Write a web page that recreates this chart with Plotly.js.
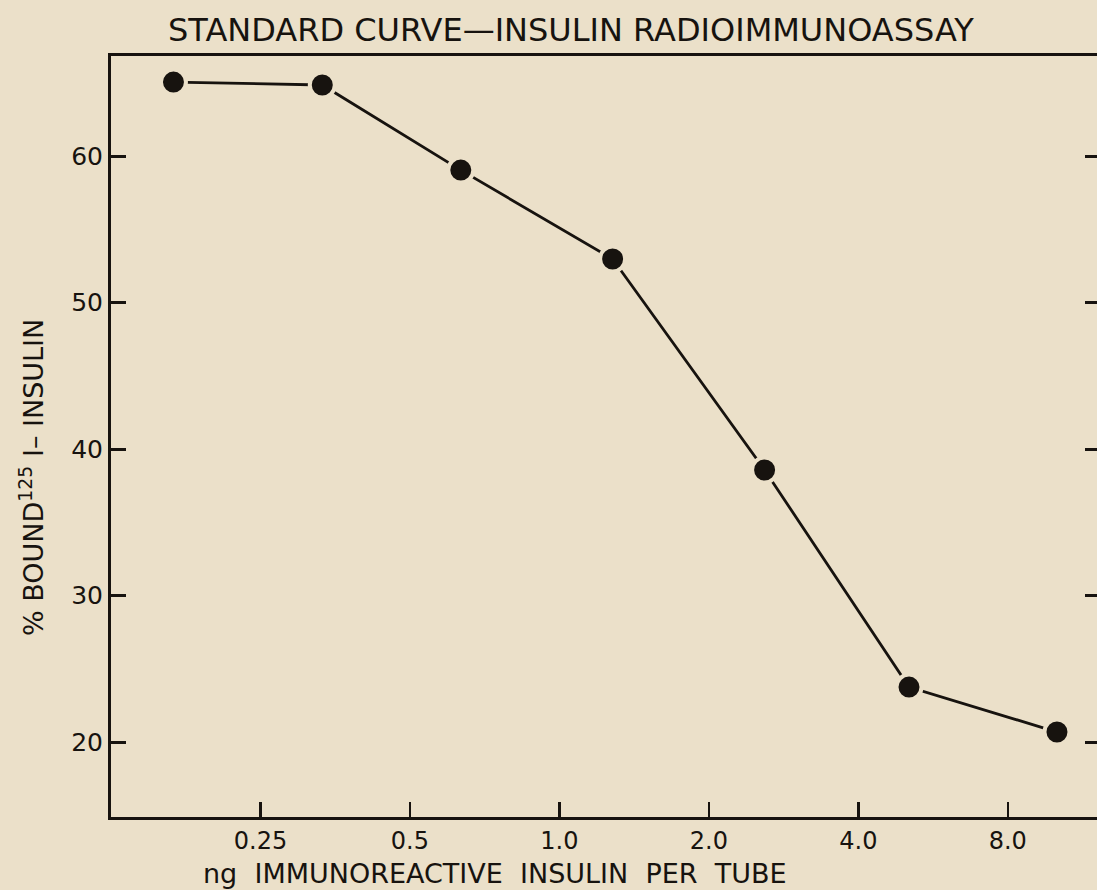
<!DOCTYPE html>
<html>
<head>
<meta charset="utf-8">
<script src="https://cdn.plot.ly/plotly-3.0.1.min.js"></script>
<style>
  html, body { margin: 0; padding: 0; background: #ebe0c9; }
  #chart { width: 1097px; height: 890px; }
</style>
</head>
<body>
<div id="chart"></div>
<script>
// Data
const doses = [0.167, 0.333, 0.633, 1.28, 2.59, 5.06, 10.05];      // ng immunoreactive insulin per tube
const boundPct = [65.05, 64.85, 59.04, 52.97, 38.57, 23.75, 20.68]; // % bound 125I-insulin
const xTickVals = [0.25, 0.5, 1, 2, 4, 8];
const xTickText = ['0.25', '0.5', '1.0', '2.0', '4.0', '8.0'];
const yTickVals = [20, 30, 40, 50, 60];
const yTickText = ['20', '30', '40', '50', '60'];

const ink = '#17130f';
const paper = '#ebe0c9';
const font = 'DejaVu Sans, sans-serif';
const yRange = [14.88, 66.83];

const trace = {
  x: doses,
  y: boundPct,
  type: 'scatter',
  mode: 'lines+markers',
  line: { color: ink, width: 2.8 },
  marker: { color: ink, size: 25, line: { color: paper, width: 4 } },
  showlegend: false,
  hoverinfo: 'x+y'
};

const layout = {
  width: 1097,
  height: 890,
  margin: { l: 111, r: 0, t: 56, b: 73 },
  paper_bgcolor: paper,
  plot_bgcolor: paper,
  showlegend: false,
  title: {
    text: 'STANDARD CURVE—INSULIN RADIOIMMUNOASSAY',
    font: { family: font, size: 32, color: ink },
    xref: 'container', x: 0.5205, xanchor: 'center',
    yref: 'container', y: 0.966, yanchor: 'middle'
  },
  xaxis: {
    type: 'log',
    range: [Math.log10(0.125), Math.log10(12.1)],
    showline: true, linecolor: ink, linewidth: 3, mirror: true,
    ticks: 'inside', ticklen: 15, tickwidth: 2.5, tickcolor: ink,
    tickmode: 'array', tickvals: xTickVals, ticktext: xTickText,
    tickfont: { family: font, size: 24, color: ink },
    showgrid: false, zeroline: false
  },
  yaxis: {
    range: yRange,
    showline: true, linecolor: ink, linewidth: 3,
    ticks: 'inside', ticklen: 15, tickwidth: 3, tickcolor: ink,
    tickmode: 'array', tickvals: yTickVals, ticktext: yTickText,
    tickfont: { family: font, size: 25, color: ink },
    showgrid: false, zeroline: false
  },
  yaxis2: {
    range: yRange, overlaying: 'y', side: 'right',
    showline: false, ticks: 'inside', ticklen: 12, tickwidth: 3, tickcolor: ink,
    tickmode: 'array', tickvals: yTickVals, showticklabels: false,
    showgrid: false, zeroline: false
  },
  annotations: [
    {
      text: 'ng  IMMUNOREACTIVE  INSULIN  PER  TUBE',
      xref: 'paper', yref: 'paper', x: 0.3895, y: -0.0736,
      xanchor: 'center', yanchor: 'middle', showarrow: false,
      font: { family: font, size: 27, color: ink }
    },
    {
      text: '% BOUND<sup>125</sup> I– INSULIN',
      xref: 'paper', yref: 'paper', x: -0.0801, y: 0.4455,
      xanchor: 'center', yanchor: 'middle', showarrow: false, textangle: -90,
      font: { family: font, size: 27, color: ink }
    }
  ]
};

const ghost = {
  x: [doses[0]], y: [boundPct[0]], yaxis: 'y2', type: 'scatter', mode: 'markers',
  marker: { opacity: 0 }, hoverinfo: 'skip', showlegend: false
};

Plotly.newPlot('chart', [trace, ghost], layout, { displayModeBar: false, staticPlot: true });
</script>
</body>
</html>
